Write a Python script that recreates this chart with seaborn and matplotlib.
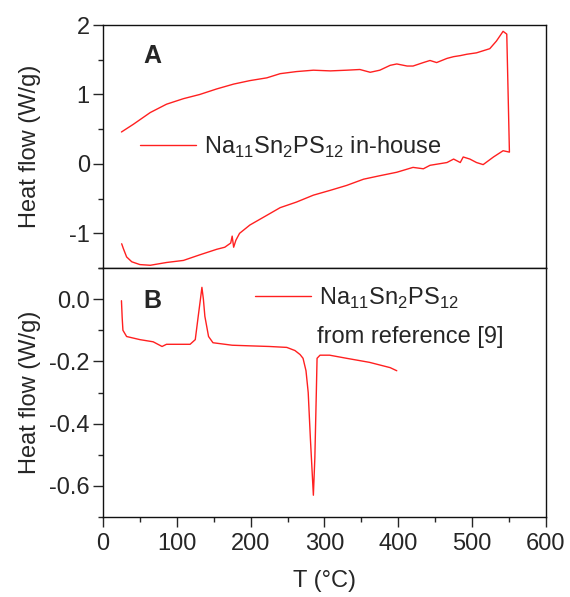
import matplotlib
matplotlib.use("Agg")
from matplotlib import pyplot as plt
from matplotlib.ticker import MultipleLocator
import seaborn as sns
import pandas as pd

# panel A: DSC loop, heating branch then cooling branch (in-house sample)
tempA = [25, 41, 64, 86, 109, 131, 154, 177, 199, 222, 240, 262, 285, 308, 330, 348, 362, 375, 389, 398,
         412, 420, 434, 443, 452, 466, 475, 484, 493, 506, 515, 524, 533, 542, 547, 549, 550.6,
         542, 529, 515, 506, 497, 488, 484, 475, 466, 443, 434, 420, 398, 375, 353, 330, 308, 285, 262,
         240, 222, 199, 185, 180, 177, 175, 173, 165, 154, 131, 109, 86, 64, 50, 39, 32, 27.6, 25.3]
flowA = [0.46, 0.57, 0.74, 0.86, 0.94, 1.0, 1.08, 1.15, 1.2, 1.24, 1.3, 1.33, 1.35, 1.34, 1.35, 1.36, 1.32, 1.35, 1.42, 1.44,
         1.41, 1.41, 1.46, 1.49, 1.46, 1.52, 1.545, 1.56, 1.58, 1.6, 1.63, 1.66, 1.77, 1.91, 1.87, 0.93, 0.17,
         0.19, 0.1, -0.01, 0.02, 0.07, 0.1, 0.02, 0.07, 0.02, -0.02, -0.07, -0.05, -0.12, -0.17, -0.22, -0.31, -0.38, -0.45, -0.55,
         -0.63, -0.74, -0.88, -1.0, -1.1, -1.2, -1.04, -1.14, -1.2, -1.23, -1.31, -1.39, -1.42, -1.46, -1.45, -1.41, -1.34, -1.22, -1.15]

# panel B: DSC curve taken from reference [9]
tempB = [25, 26, 27, 32, 50, 68, 76, 80, 86, 100, 118, 125, 129, 132, 134, 136, 138, 143, 149, 175,
         199, 225, 249, 260, 267, 271, 275, 278, 281, 285, 287, 289, 290, 294, 307, 330, 361, 389, 398]
flowB = [-0.005, -0.06, -0.1, -0.12, -0.13, -0.137, -0.147, -0.152, -0.145, -0.145, -0.145, -0.13, -0.055, 0.0, 0.038, 0.0, -0.055, -0.12, -0.14, -0.148,
         -0.15, -0.152, -0.155, -0.165, -0.178, -0.19, -0.23, -0.3, -0.45, -0.63, -0.51, -0.3, -0.19, -0.18, -0.18, -0.19, -0.203, -0.22, -0.23]

labelA = r"Na$_\mathregular{11}$Sn$_\mathregular{2}$PS$_\mathregular{12}$ in-house"
labelB = r"Na$_\mathregular{11}$Sn$_\mathregular{2}$PS$_\mathregular{12}$"
labelB2 = "from reference [9]"

sns.set_style("ticks")
plt.rcParams['font.family'] = ['Liberation Sans', 'DejaVu Sans']
plt.rcParams['mathtext.fontset'] = 'custom'
plt.rcParams['mathtext.rm'] = 'Liberation Sans'
plt.rcParams['axes.linewidth'] = 1.0

red = '#ff2020'
fs = 17

fig = plt.figure(figsize=(5.70, 5.97), dpi=100)
axA = fig.add_axes([0.1807, 0.551, 0.777, 0.407])
axB = fig.add_axes([0.1807, 0.134, 0.777, 0.417])

dfA = pd.DataFrame({"T": tempA, "H": flowA})
dfB = pd.DataFrame({"T": tempB, "H": flowB})
sns.lineplot(data=dfA, x="T", y="H", sort=False, estimator=None, color=red, lw=1.0, ax=axA, label=labelA)
sns.lineplot(data=dfB, x="T", y="H", sort=False, estimator=None, color=red, lw=1.0, ax=axB, label=labelB)

for ax in (axA, axB):
    for s in ax.spines.values():
        s.set_visible(True)
        s.set_linewidth(1.0)
        s.set_color('#111111')
    ax.set_xlim(0, 600)
    ax.xaxis.set_major_locator(MultipleLocator(100))
    ax.xaxis.set_minor_locator(MultipleLocator(50))
    ax.tick_params(which='major', direction='out', length=7, width=1, pad=2.5, labelsize=fs, top=False, right=False)
    ax.tick_params(which='minor', direction='out', length=3.6, width=1, top=False, right=False)
    ax.set_ylabel("Heat flow (W/g)", fontsize=fs)

axA.set_ylim(-1.5, 2)
axA.yaxis.set_minor_locator(MultipleLocator(0.5))
axA.set_yticks([-1, 0, 1, 2])
axA.set_yticklabels(["-1", "0", "1", "2"])
axA.tick_params(axis='x', which='both', length=0, labelbottom=False)
axA.set_xlabel("")

axB.set_ylim(-0.7, 0.1)
axB.yaxis.set_minor_locator(MultipleLocator(0.1))
axB.set_yticks([-0.6, -0.4, -0.2, 0.0])
axB.set_yticklabels(["-0.6", "-0.4", "-0.2", "0.0"])
axB.tick_params(axis='x', which='major', pad=4.5)
axB.set_xlabel("T (°C)", fontsize=fs, labelpad=11)

axA.legend(loc='center left', bbox_to_anchor=(0.0835, 0.498), frameon=False, fontsize=fs,
           handlelength=2.37, handletextpad=0.34, borderaxespad=0, borderpad=0)
axB.legend(loc='center left', bbox_to_anchor=(0.343, 0.88), frameon=False, fontsize=fs,
           handlelength=2.37, handletextpad=0.34, borderaxespad=0, borderpad=0)
axB.text(0.483, 0.723, labelB2, transform=axB.transAxes, fontsize=fs, va='center', ha='left')

axA.text(0.111, 0.872, "A", transform=axA.transAxes, fontsize=18, fontweight='bold', ha='center', va='center')
axB.text(0.111, 0.867, "B", transform=axB.transAxes, fontsize=18, fontweight='bold', ha='center', va='center')

axA.yaxis.set_label_coords(-0.14, 0.5)
axB.yaxis.set_label_coords(-0.14, 0.5)

fig.savefig("out.png", dpi=100)
